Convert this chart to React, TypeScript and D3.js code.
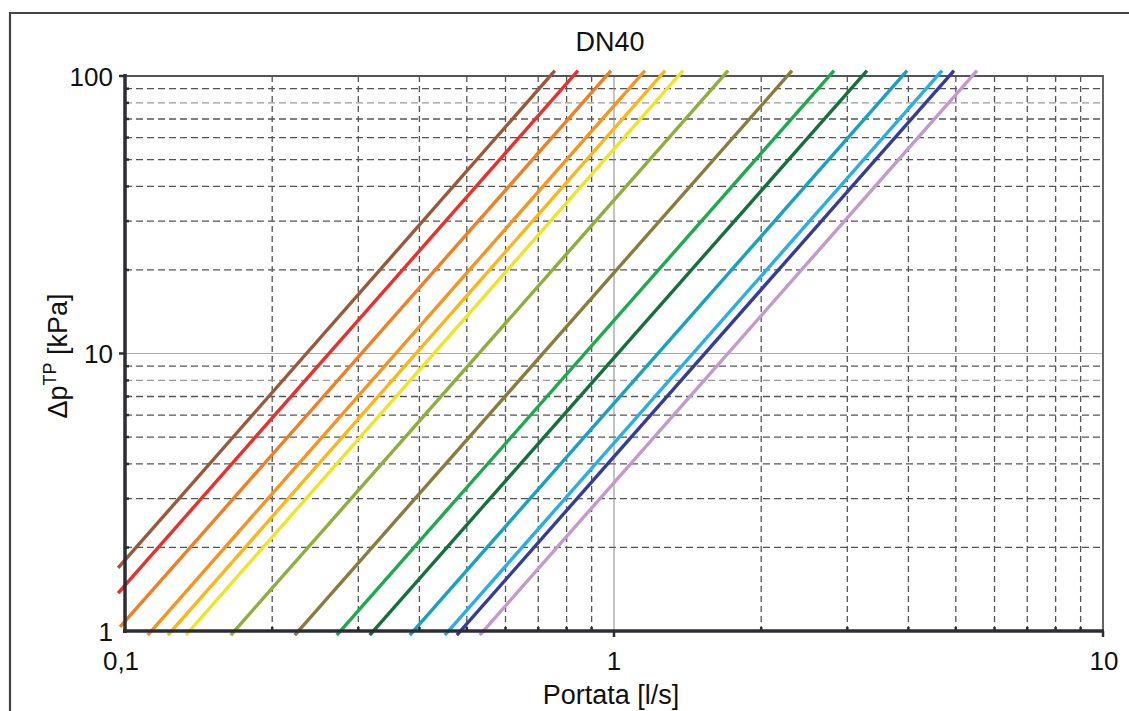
import React from "react";
import * as d3 from "d3";

const W = 1129;
const H = 711;

const title = "DN40";
const xLabel = "Portata [l/s]";
const xTickValues = [0.1, 1, 10];
const xTickLabels = ["0,1", "1", "10"];
const yTickValues = [1, 10, 100];
const yTickLabels = ["1", "10", "100"];

// curve colors (left to right)
const curveColors = [
  "#9a5a3a", "#e8312a", "#ef7f22", "#f5951f", "#fbb718", "#ece52a", "#8fae3c",
  "#8c7b3e", "#1daa4d", "#15703e", "#18a2c0", "#2aafe3", "#343e94", "#c39acb",
];
// start points (flow l/s, Δp kPa)
const qStart = [0.0968, 0.0968, 0.0977, 0.1113, 0.1224, 0.1332, 0.1646, 0.2225, 0.2711, 0.3166, 0.3824, 0.4509, 0.4771, 0.5315];
const dpStart = [1.687, 1.37, 1.034, 0.967, 0.967, 0.967, 0.967, 0.967, 0.967, 0.967, 0.967, 0.967, 0.967, 0.967];
// end points
const qEnd = [0.757, 0.844, 0.986, 1.157, 1.272, 1.384, 1.711, 2.312, 2.818, 3.291, 3.975, 4.687, 4.958, 5.525];
const dpEnd = [104.5, 104.5, 104.5, 104.5, 104.5, 104.5, 104.5, 104.5, 104.5, 104.5, 104.5, 104.5, 104.5, 104.5];

const minorMultipliers = [2, 3, 4, 5, 6, 7, 8, 9];

const PL = 125, PR = 1103, PT = 76, PB = 631;

export default function App() {
  const x = d3.scaleLog().domain([0.1, 10]).range([PL, PR]);
  const y = d3.scaleLog().domain([1, 100]).range([PB, PT]);
  const line = d3.line<[number, number]>().x((d) => x(d[0])).y((d) => y(d[1]));

  const xMinor: number[] = [];
  [0.1, 1].forEach((dec) => minorMultipliers.forEach((m) => xMinor.push(dec * m)));
  const yMinor: number[] = [];
  [1, 10].forEach((dec) => minorMultipliers.forEach((m) => yMinor.push(dec * m)));

  const font = "'Liberation Sans', Arial, sans-serif";

  return (
    <svg
      width={W}
      height={H}
      style={{ position: "absolute", left: 0, top: 0, background: "#fff" }}
      fontFamily={font}
    >
      <rect x={0} y={0} width={W} height={H} fill="#fff" />
      {/* outer frame */}
      <path d={`M10,${H} L10,13 L${W},13`} fill="none" stroke="#444" strokeWidth={2.2} />

      {/* title */}
      <text x={610} y={51} textAnchor="middle" fontSize={27} fill="#111">{title}</text>

      {/* minor grid */}
      {xMinor.map((v) => (
        <line key={"gx" + v} x1={x(v)} x2={x(v)} y1={PT} y2={PB} stroke="#555" strokeWidth={1.3} strokeDasharray="6,4" />
      ))}
      {yMinor.map((v) => (
        <line key={"gy" + v} x1={PL} x2={PR} y1={y(v)} y2={y(v)}
          stroke={v === 8 || v === 80 ? "#9a9a9a" : "#555"}
          strokeWidth={1.3} strokeDasharray="7,4" />
      ))}
      {/* major grid */}
      <line x1={x(1)} x2={x(1)} y1={PT} y2={PB} stroke="#888" strokeWidth={1} />
      <line x1={PL} x2={PR} y1={y(10)} y2={y(10)} stroke="#aaa" strokeWidth={1} />

      {/* plot border top/right */}
      <path d={`M${PL},${PT} L${PR},${PT} L${PR},${PB}`} fill="none" stroke="#555" strokeWidth={1.8} />

      {/* curves */}
      {curveColors.map((c, i) => (
        <path
          key={"c" + i}
          d={line([[qStart[i], dpStart[i]], [qEnd[i], dpEnd[i]]]) || ""}
          fill="none"
          stroke={c}
          strokeWidth={3.4}
        />
      ))}

      {/* axes */}
      <line x1={PL} x2={PL} y1={PT - 2} y2={PB + 2} stroke="#2c2c34" strokeWidth={3.5} />
      <line x1={PL - 2} x2={PR + 1} y1={PB} y2={PB} stroke="#2c2c34" strokeWidth={3.5} />
      <line x1={PL - 6} x2={PL} y1={PT} y2={PT} stroke="#2c2c34" strokeWidth={2.5} />
      {yMinor.map((v) => (
        <line key={"ty" + v} x1={PL} x2={PL + 4} y1={y(v)} y2={y(v)} stroke="#2c2c34" strokeWidth={2.5} />
      ))}
      {xMinor.map((v) => (
        <line key={"tx" + v} x1={x(v)} x2={x(v)} y1={PB} y2={PB - 4} stroke="#2c2c34" strokeWidth={2.5} />
      ))}
      <line x1={x(1)} x2={x(1)} y1={PB} y2={PB + 6} stroke="#2c2c34" strokeWidth={2.5} />
      <line x1={PR} x2={PR} y1={PB} y2={PB + 6} stroke="#2c2c34" strokeWidth={2.5} />
      <line x1={PL - 6} x2={PL} y1={y(10)} y2={y(10)} stroke="#2c2c34" strokeWidth={2.5} />

      {/* tick labels */}
      {yTickValues.map((v, i) => (
        <text key={"yl" + v} x={113} y={y(v) + 9.5} textAnchor="end" fontSize={26} fill="#111">
          {yTickLabels[i]}
        </text>
      ))}
      {xTickValues.map((v, i) => (
        <text key={"xl" + v} x={x(v) - (i === 0 ? 4 : i === 2 ? -1 : 0)} y={670} textAnchor="middle" fontSize={26} fill="#111">
          {xTickLabels[i]}
        </text>
      ))}

      {/* axis labels */}
      <text x={611} y={704} textAnchor="middle" fontSize={27} fill="#111">{xLabel}</text>
      <text transform="translate(67,356) rotate(-90)" textAnchor="middle" fontSize={27} fill="#111">
        Δp<tspan dy={-11} fontSize={18}>TP</tspan><tspan dy={11}> [kPa]</tspan>
      </text>
    </svg>
  );
}
